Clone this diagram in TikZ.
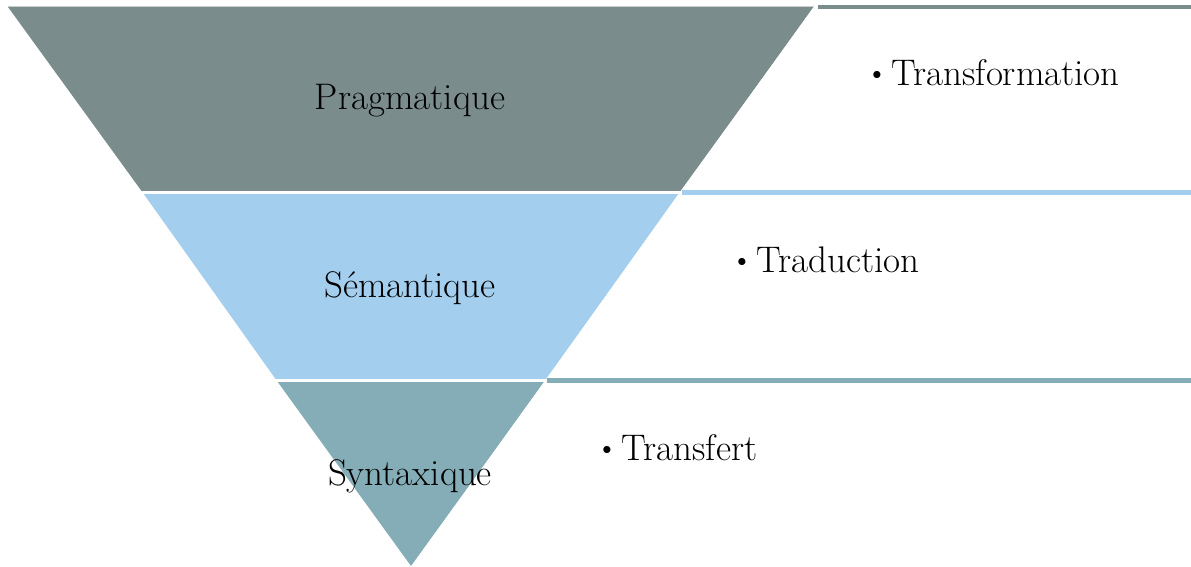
\documentclass[tikz,border=0pt]{standalone}
\usepackage{tikz}

\definecolor{pragcol}{HTML}{7B8C8D}
\definecolor{semcol}{HTML}{A3CEEE}
\definecolor{syntcol}{HTML}{85ADB7}

\newcommand{\dotitem}{\raisebox{3pt}{\small$\bullet$}\hspace{5pt}}

\tikzset{
  level/.style={anchor=base, font=\fontsize{18.5}{22}\selectfont},
  item/.style={anchor=base west, font=\fontsize{18.5}{22}\selectfont, inner sep=0pt}
}

\begin{document}
\begin{tikzpicture}[x=0.5pt,y=-0.5pt]
	\useasboundingbox (0,0) rectangle (1191,567);

	\fill[pragcol] (8,7) -- (814,7) -- (679,193) -- (143,193) -- cycle;
	\fill[semcol] (143,193) -- (679,193) -- (545,381) -- (277,381) -- cycle;
	\fill[syntcol] (277,381) -- (545,381) -- (411,566) -- cycle;
	\draw[white, line width=1.5] (5,193) -- (685,193);
	\draw[white, line width=1.5] (5,381) -- (550,381);
	\draw[white, line width=0.8] (816,5) -- (412,567);
	\draw[black!20, line width=0.8] (8,6.5) -- (814,6.5);

	\draw[pragcol, line width=1.6] (818,7) -- (1191,7);
	\draw[semcol, line width=2.5] (682,193) -- (1191,193);
	\draw[syntcol, line width=2.5] (547,381) -- (1191,381);

	\node[level] (prag) at (410,110) {Pragmatique};
	\node[level] (sem) at (410,298) {Sémantique};
	\node[level] (synt) at (410,486) {Syntaxique};

	\node[item] (transfo) at (872,86) {\dotitem Transformation};
	\node[item] (trad) at (737,273) {\dotitem Traduction};
	\node[item] (transf) at (602,460) {\dotitem Transfert};
\end{tikzpicture}
\end{document}
